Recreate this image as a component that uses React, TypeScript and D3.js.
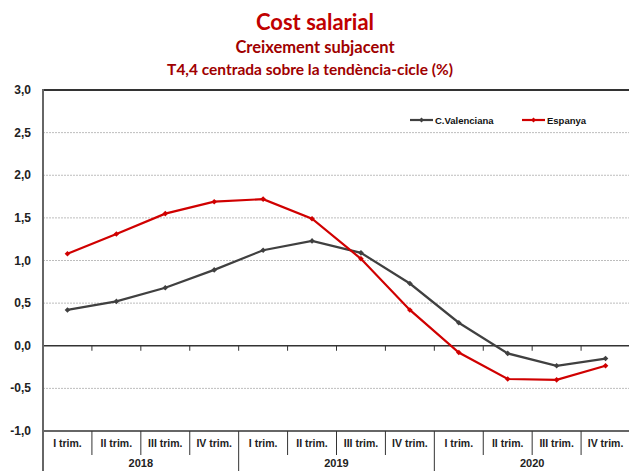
import React from "react";
import * as d3 from "d3";

const quarters = ["I trim.", "II trim.", "III trim.", "IV trim.", "I trim.", "II trim.", "III trim.", "IV trim.", "I trim.", "II trim.", "III trim.", "IV trim."];
const years = ["2018", "2019", "2020"];
const valenciana = [0.42, 0.52, 0.68, 0.89, 1.12, 1.23, 1.09, 0.73, 0.27, -0.09, -0.235, -0.15];
const espanya = [1.08, 1.31, 1.55, 1.69, 1.72, 1.49, 1.02, 0.42, -0.08, -0.39, -0.40, -0.235];
const yTicks = [3.0, 2.5, 2.0, 1.5, 1.0, 0.5, 0.0, -0.5, -1.0];

const W = 629, H = 471;
const left = 43, right = 630, top = 90, bottom = 431;

export default function App() {
  const x = d3.scaleBand<number>().domain(d3.range(quarters.length)).range([left, right]).padding(0);
  const y = d3.scaleLinear().domain([-1, 3]).range([bottom, top]);
  const line = d3.line<number>().x((_, i) => (x(i) as number) + x.bandwidth() / 2).y((d) => y(d));
  const fmt = (v: number) => v.toFixed(1).replace(".", ",");
  const font = "'Liberation Sans', Arial, sans-serif";
  const narrow = "'Liberation Sans Narrow', 'Liberation Sans', Arial, sans-serif";
  const tfont = "Lato, 'Open Sans', sans-serif";
  const diamond = (cx: number, cy: number, r: number) => `M${cx},${cy - r}L${cx + r},${cy}L${cx},${cy + r}L${cx - r},${cy}Z`;
  const series = [
    { name: "C.Valenciana", data: valenciana, color: "#404040" },
    { name: "Espanya", data: espanya, color: "#d00000" },
  ];
  const bw = x.bandwidth();
  return (
    <svg width={W} height={H} style={{ position: "absolute", left: 0, top: 0, background: "#fff" }}>
      <rect x={0} y={0} width={W} height={H} fill="#fff" />
      <text x={315} y={30} textAnchor="middle" fontFamily={tfont} fontWeight="bold" fontSize={22} fill="#c00000">Cost salarial</text>
      <text x={315} y={53} textAnchor="middle" fontFamily={tfont} fontWeight="bold" fontSize={16.5} fill="#a00000">Creixement subjacent</text>
      <text x={310} y={75} textAnchor="middle" fontFamily={tfont} fontWeight="bold" fontSize={15.5} fill="#a00000">T4,4 centrada sobre la tendència-cicle (%)</text>

      {yTicks.filter((t) => t !== 0 && t !== 3 && t !== -1).map((t) => (
        <line key={t} x1={left} x2={right} y1={y(t)} y2={y(t)} stroke="#bdbdbd" strokeWidth={1} strokeDasharray="2,1" />
      ))}
      <line x1={left} x2={right} y1={top} y2={top} stroke="#333" strokeWidth={2} />
      <line x1={left} x2={right} y1={y(0)} y2={y(0)} stroke="#333" strokeWidth={1.3} />
      {d3.range(1, quarters.length).map((i) => (
        <line key={i} x1={x(i) as number} x2={x(i) as number} y1={y(0)} y2={y(0) + 5} stroke="#333" strokeWidth={1} />
      ))}
      <line x1={left} x2={right} y1={bottom} y2={bottom} stroke="#333" strokeWidth={1.3} />
      {d3.range(1, quarters.length).map((i) => (
        <line key={"d" + i} x1={x(i) as number} x2={x(i) as number} y1={bottom} y2={i % 4 === 0 ? H : bottom + 24} stroke="#333" strokeWidth={1} />
      ))}
      <line x1={left} x2={left} y1={top - 1} y2={H} stroke="#666" strokeWidth={2} />

      {yTicks.map((t) => (
        <text key={t} x={31} y={y(t) + 4} textAnchor="end" fontFamily={font} fontWeight="bold" fontSize={12} fill="#222">{fmt(t)}</text>
      ))}
      {quarters.map((q, i) => (
        <text key={i} x={(x(i) as number) + bw / 2} y={447} textAnchor="middle" fontFamily={font} fontWeight="bold" fontSize={10.5} fill="#222">{q}</text>
      ))}
      {years.map((yr, j) => (
        <text key={yr} x={(x(j * 4) as number) + bw * 2} y={467} textAnchor="middle" fontFamily={font} fontWeight="bold" fontSize={11} fill="#222">{yr}</text>
      ))}

      {series.map((s) => (
        <g key={s.name}>
          <path d={line(s.data) || ""} fill="none" stroke={s.color} strokeWidth={2.2} />
          {s.data.map((v, i) => (
            <path key={i} d={diamond((x(i) as number) + bw / 2, y(v), 2.8)} fill={s.color} />
          ))}
        </g>
      ))}

      {series.map((s, k) => {
        const lx = k === 0 ? 410 : 522;
        return (
          <g key={s.name}>
            <line x1={lx} x2={lx + 23} y1={120} y2={120} stroke={s.color} strokeWidth={2.2} />
            <path d={diamond(lx + 11.5, 120, 2.5)} fill={s.color} />
            <text x={lx + 25} y={123.5} fontFamily={narrow} fontWeight="bold" fontSize={9.5} fill="#111">{s.name}</text>
          </g>
        );
      })}
    </svg>
  );
}
